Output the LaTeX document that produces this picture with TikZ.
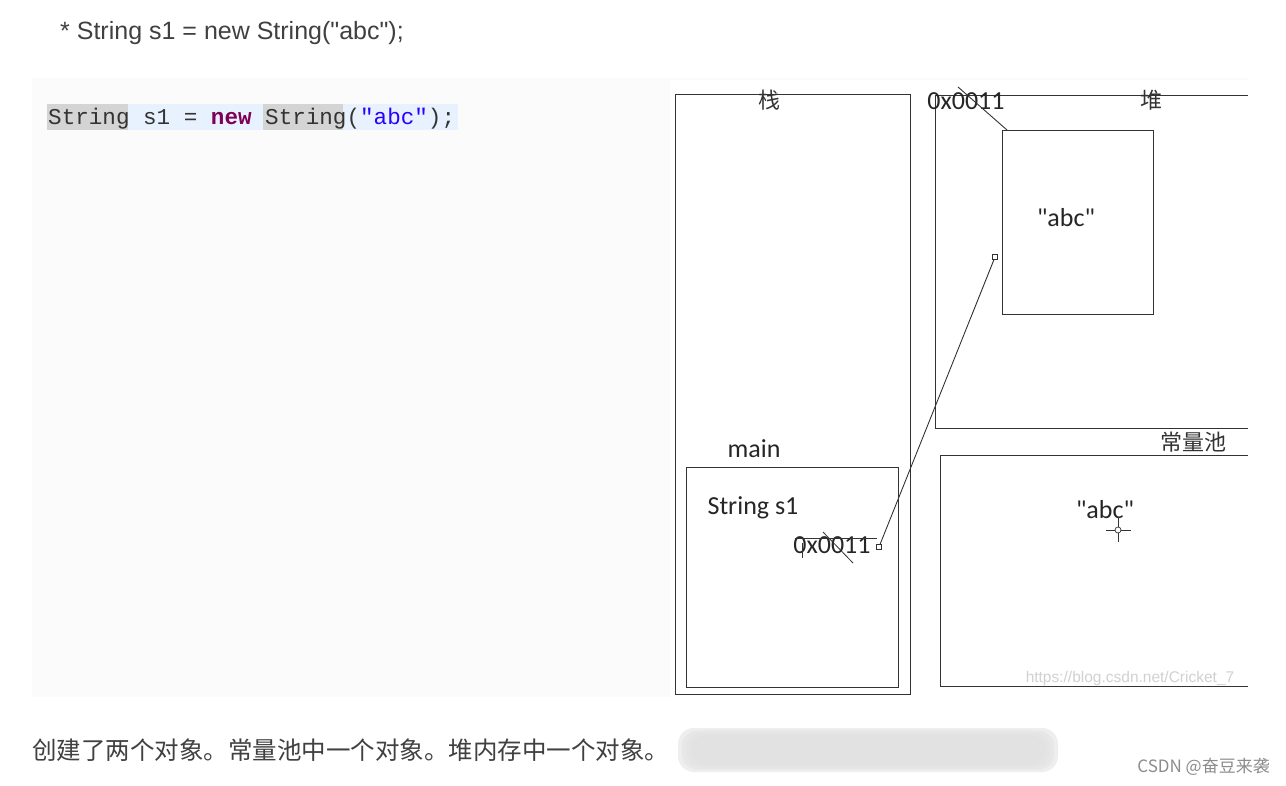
\documentclass[tikz,border=0pt]{standalone}
\usepackage{fontspec}
\setmainfont{Liberation Sans}[Ligatures=TeXOff]
\newfontfamily\cjk{Noto Sans CJK SC}[Ligatures=TeXOff]
\newfontfamily\carl{Carlito}[Ligatures=TeXOff]
\newfontfamily\codemono{Liberation Mono}[Ligatures=TeXOff]
\definecolor{titlec}{HTML}{404040}
\definecolor{panelc}{HTML}{FBFBFB}
\definecolor{codebg}{HTML}{E8F2FE}
\definecolor{kwbg}{HTML}{D4D4D4}
\definecolor{kwc}{HTML}{7F0055}
\definecolor{strc}{HTML}{2A00FF}
\definecolor{linec}{HTML}{333333}
\tikzset{
  membox/.style={draw=linec, line width=1pt, inner sep=0, anchor=north west, fill=white},
  lat/.style={font=\carl\fontsize{26}{30}\selectfont, text=black!85, inner sep=0},
  cjklab/.style={font=\cjk\fontsize{22}{26}\selectfont, text=black!80, inner sep=0},
  wire/.style={draw=linec, line width=0.9pt},
  sq/.style={draw=linec, fill=white, line width=0.8pt, minimum size=5pt, inner sep=0},
}
\begin{document}
\begin{tikzpicture}[x=1pt,y=-1pt]
\useasboundingbox (0,0) rectangle (1286,785);
\fill[white] (0,0) rectangle (1286,785);
\fill[panelc] (32,78) rectangle (1248,697);
\fill[white] (670,80) rectangle (1248,697);

% title
\node[anchor=west, font=\fontsize{25}{30}\selectfont, text=titlec, inner sep=0] (title) at (60,33) {* String s1 = new String("abc");};

% code line
\fill[codebg] (47,104) rectangle (458,130);
\fill[kwbg] (47,104) rectangle (128,130);
\fill[kwbg] (263,104) rectangle (343,130);
\node[anchor=base west, inner sep=0, font=\codemono\fontsize{22.6}{26}\selectfont, text=black!80] (code) at (48,124.5)
  {String s1 = \textcolor{kwc}{\bfseries new} String(\textcolor{strc}{"abc"});};

% stack
\node[membox, minimum width=235, minimum height=600] (stack) at (675,94) {};
\node[cjklab] (stacklab) at (769,100) {栈};

% heap (open on the right)
\draw[linec, line width=1pt] (1248,95) -- (935,95) -- (935,428) -- (1248,428);
\node[cjklab] (heaplab) at (1151,100) {堆};
\node[membox, minimum width=151, minimum height=184] (heapobj) at (1002,130) {};
\node[lat] (heapabc) at (1066,218) {"abc"};
\node[lat] (heapaddr) at (966,101) {0x0011};
\coordinate (addrtick) at (958,87);
\draw[wire] (addrtick) -- ([xshift=5pt]heapobj.north west);

% main frame
\node[lat] (mainlab) at (754,449) {main};
\node[membox, minimum width=212, minimum height=220] (mainbox) at (686,467) {};
\node[lat] (s1) at (753,508) {String s1};
\node[lat] (s1addr) at (832,545) {0x0011};
\draw[linec, line width=0.8pt] (795,538) -- (877,538);
\draw[linec, line width=0.8pt] (802,543) -- (802,558);
\draw[linec, line width=0.8pt] (823,532) -- (853,563);

% reference connector
\node[sq] (sqB) at (879,547) {};
\node[sq] (sqA) at (995,257) {};
\draw[wire] (sqB) -- (sqA);

% constant pool (open on the right)
\node[cjklab] (poollab) at (1193,442) {常量池};
\draw[linec, line width=1pt] (1248,455) -- (940,455) -- (940,686) -- (1248,686);
\node[lat] (poolabc) at (1105,510) {"abc"};
\draw[linec, line width=0.8pt] (1106,530) -- (1131,530);
\draw[linec, line width=0.8pt] (1118,517) -- (1118,542);
\draw[linec, line width=0.7pt, fill=white] (1118,530) circle (3);
\node[font=\fontsize{15.5}{18}\selectfont, text=black!18, inner sep=0] (wm) at (1130,678) {https://blog.csdn.net/Cricket\_7};

% bottom text
\node[anchor=west, inner sep=0, font=\cjk\fontsize{24.5}{28}\selectfont, text=titlec] (summary) at (32,750)
  {创建了两个对象。常量池中一个对象。堆内存中一个对象。};
\foreach \o/\g in {0.2/12, 0.3/8, 0.4/4, 0.5/0} {
  \fill[black!13, opacity=\o, rounded corners=16pt] (678+\g,728+\g*0.6) rectangle (1058-\g,772-\g*0.6);
}
\node[anchor=east, inner sep=0, font=\cjk\fontsize{17}{20}\selectfont, text=black!45] (csdn) at (1270,767) {CSDN @奋豆来袭};
\end{tikzpicture}
\end{document}
